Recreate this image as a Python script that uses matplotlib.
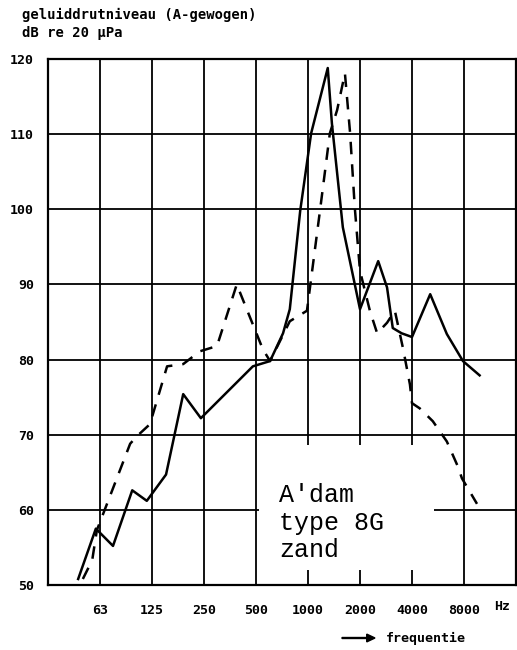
import matplotlib
matplotlib.use("Agg")
import matplotlib.pyplot as plt
from matplotlib.patches import Rectangle

# octave band positions (0 = 31.5 Hz, 1 = 63 Hz, ... 9 = 16000 Hz)
band_labels = ["63", "125", "250", "500", "1000", "2000", "4000", "8000"]
band_pos = [1, 2, 3, 4, 5, 6, 7, 8]

# solid curve
solid_x = [0.58, 0.92, 1.25, 1.62, 1.90, 2.27, 2.60, 2.94, 3.94, 4.27, 4.52, 4.65,
           4.85, 5.06, 5.38, 5.46, 5.67, 6.00, 6.35, 6.52, 6.63, 6.80, 7.00, 7.35,
           7.67, 7.98, 8.30]
solid_db = [50.8, 57.5, 55.2, 62.6, 61.2, 64.7, 75.4, 72.2, 79.1, 79.8, 83.5, 86.7,
            99.8, 110.1, 118.8, 111.4, 97.6, 86.7, 93.1, 89.6, 84.2, 83.5, 83.0, 88.7,
            83.4, 79.8, 77.9]

# dashed curve
dash_x = [0.67, 0.85, 0.94, 1.58, 1.71, 1.96, 2.29, 2.60, 2.92, 3.25, 3.63, 4.13,
          4.27, 4.65, 4.98, 5.23, 5.42, 5.56, 5.71, 5.81, 5.90, 6.00, 6.19, 6.33,
          6.52, 6.67, 6.83, 6.96, 7.00, 7.15, 7.40, 7.67, 7.88, 7.96, 8.25]
dash_db = [50.8, 53.3, 57.3, 68.8, 69.8, 71.4, 79.1, 79.4, 81.1, 81.8, 90.0, 81.4,
           79.8, 85.1, 86.5, 99.8, 110.1, 113.2, 118.1, 110.1, 100.2, 91.8, 86.5, 83.5,
           84.9, 86.5, 81.4, 76.7, 74.2, 73.5, 71.8, 69.1, 65.8, 64.2, 60.8]

y_ticks = [50, 60, 70, 80, 90, 100, 110, 120]

W, H = 517, 650
fig = plt.figure(figsize=(W / 100, H / 100), dpi=100)
ax = fig.add_axes([48 / W, 1 - 585 / H, (516 - 48) / W, (585 - 59) / H])

ax.set_xlim(0, 9)
ax.set_ylim(50, 120)

ax.set_xticks(band_pos)
ax.set_xticklabels(band_labels)
ax.set_yticks(y_ticks)
ax.tick_params(length=0, pad=14, labelsize=9.5)
for lab in ax.get_xticklabels() + ax.get_yticklabels():
    lab.set_fontweight("bold")
    lab.set_family("DejaVu Sans Mono")
ax.tick_params(axis="y", pad=10)

ax.grid(True, color="black", linewidth=1.3)
for s in ax.spines.values():
    s.set_linewidth(1.6)

# white box behind the label text, hides the grid
ax.add_patch(Rectangle((4.05, 52.0), 3.38, 16.6, facecolor="white",
                       edgecolor="none", zorder=2))

ax.plot(solid_x, solid_db, color="black", linewidth=1.8, zorder=3)
ax.plot(dash_x, dash_db, color="black", linewidth=1.8, zorder=3,
        dashes=(5, 4))

ax.text(4.44, 58.3, "A'dam\ntype 8G\nzand", fontsize=18, family="Liberation Mono",
        va="center", ha="left", linespacing=1.2, zorder=4)

fig.text(22 / W, 1 - 15 / H, "geluiddrutniveau (A-gewogen)", fontsize=10,
         fontweight="bold", family="DejaVu Sans Mono", va="center")
fig.text(22 / W, 1 - 33 / H, "dB re 20 \u03bcPa", fontsize=10,
         fontweight="bold", family="DejaVu Sans Mono", va="center")
fig.text(494 / W, 1 - 606 / H, "Hz", fontsize=9.5, fontweight="bold",
         family="DejaVu Sans Mono", va="center")

# arrow + frequentie
fig.patches.append(matplotlib.patches.FancyArrow(
    342 / W, 1 - 638 / H, 33 / W, 0, width=0.0015, head_width=0.012,
    head_length=0.016, length_includes_head=True, color="black",
    transform=fig.transFigure, figure=fig))
fig.text(386 / W, 1 - 638 / H, "frequentie", fontsize=9.5, fontweight="bold",
         family="DejaVu Sans Mono", va="center")

fig.savefig("out.png", dpi=100)
